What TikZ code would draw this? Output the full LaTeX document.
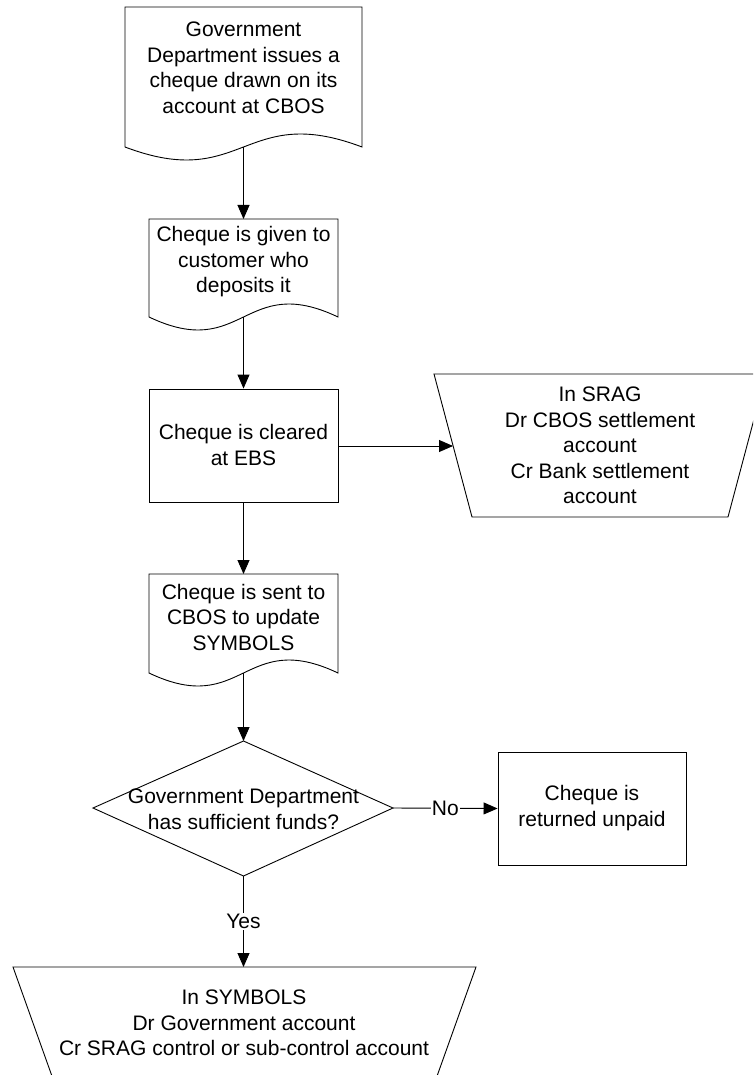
\documentclass[tikz,border=0pt]{standalone}
\usepackage{fontspec}
\setmainfont{Liberation Sans}
\usetikzlibrary{arrows.meta}
\tikzset{
  shapeline/.style={draw=black, line width=0.9pt},
  txt/.style={align=center, font=\fontsize{21pt}{25.5pt}\selectfont, inner sep=0pt},
  conn/.style={draw=black, line width=0.9pt, -{Triangle[length=14pt,width=12pt]}},
  lbl/.style={fill=white, inner sep=1pt, font=\fontsize{21pt}{25.5pt}\selectfont}
}
\newcommand{\docshape}[4]{% L R T B
  \draw[shapeline] (#1,#3) -- (#2,#3) -- (#2,#4)
    .. controls ({(#1+#2)/2},{#4-45}) and ({(#1+#2)/2},{#4+45}) .. (#1,#4) -- cycle;}
\begin{document}
\begin{tikzpicture}[x=1pt,y=-1pt]
\useasboundingbox (0,0) rectangle (753,1075);
\clip (0,0) rectangle (753,1075);

% Document 1
\docshape{125}{362}{7}{147}
\node[txt] (doc1) at (243.5,68) {Government\\Department issues a\\cheque drawn on its\\account at CBOS};
\coordinate (doc1b) at (243.5,147);

% Document 2
\docshape{149}{338}{219}{317}
\node[txt] (doc2) at (243.5,262) {Cheque is given to\\customer who\\deposits it};
\coordinate (doc2t) at (243.5,219);
\coordinate (doc2b) at (243.5,317);

% Process box EBS
\node[shapeline, minimum width=189pt, minimum height=113pt, inner sep=0pt] (ebs) at (243.5,445.5) {};
\node[txt] (ebstxt) at (243.5,445) {Cheque is cleared\\at EBS};

% SRAG trapezoid
\draw[shapeline] (434,374) -- (766,374) -- (728,517) -- (472,517) -- cycle;
\node[txt] (srag) at (600,445.5) {In SRAG\\Dr CBOS settlement\\account\\Cr Bank settlement\\account};
\coordinate (sragl) at (453,446);

% Document 3
\docshape{149}{338}{574}{673}
\node[txt] (doc3) at (243.5,617) {Cheque is sent to\\CBOS to update\\SYMBOLS};
\coordinate (doc3t) at (243.5,574);
\coordinate (doc3b) at (243.5,673);

% Decision diamond
\coordinate (dt) at (243.5,741);
\coordinate (dr) at (393,808);
\coordinate (db) at (243.5,876);
\coordinate (dl) at (93,808);
\draw[shapeline] (dt) -- (dr) -- (db) -- (dl) -- cycle;
\node[txt] (dec) at (243.5,809.5) {Government Department\\has sufficient funds?};

% Returned unpaid box
\node[shapeline, minimum width=188pt, minimum height=113pt, inner sep=0pt] (ret) at (592,808.5) {};
\node[txt] (rettxt) at (592,808) {Cheque is\\returned unpaid};

% Bottom trapezoid
\draw[shapeline] (13,967) -- (476,967) -- (436,1079) -- (53,1079) -- cycle;
\node[txt] (sym) at (244,1023) {In SYMBOLS\\Dr Government account\\Cr SRAG control or sub-control account};
\coordinate (symt) at (243.5,967);

% Connectors
\draw[conn] (doc1b) -- (doc2t);
\draw[conn] (doc2b) -- (ebs.north);
\draw[conn] (ebs.south) -- (doc3t);
\draw[conn] (ebs.east |- sragl) -- (sragl);
\draw[conn] (doc3b) -- (dt);
\draw[conn] (dr) -- node[lbl] {No} (ret.west);
\draw[conn] (db) -- node[lbl] {Yes} (symt);
\end{tikzpicture}
\end{document}
